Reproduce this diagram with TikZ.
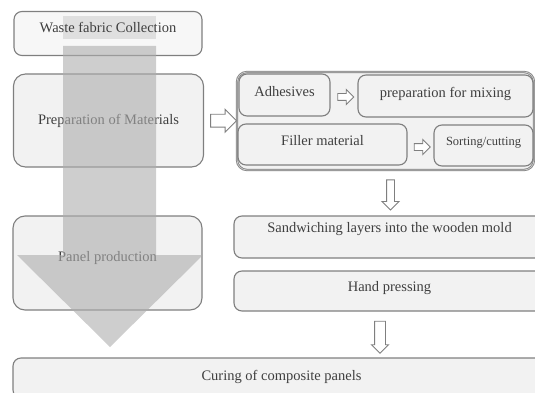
\documentclass[tikz,border=0pt]{standalone}
\usepackage{fontspec}
\setmainfont{Liberation Serif}
\usepackage{xcolor}
\definecolor{boxfill}{HTML}{F2F2F2}
\definecolor{boxline}{HTML}{7F7F7F}
\definecolor{ink}{HTML}{3F3F3F}
\definecolor{bigarrow}{HTML}{ADADAD}
\definecolor{strip}{HTML}{C4C4C4}
\usepackage{tikz}
\usetikzlibrary{shapes.arrows, calc}
\tikzset{
    stage/.style = {
      rounded corners = 8pt,
      draw = boxline,
      fill = boxfill,
      line width = 1.1pt,
      text = ink,
      inner sep = 0pt,
      text height = 10pt,
      font = \fontsize{14.5}{17}\selectfont
    },
    group/.style = {
      rounded corners = 10pt,
      draw = boxline,
      double = boxfill!70!boxline,
      double distance = 0.7pt,
      fill = boxfill,
      line width = 0.8pt
    },
    hollow/.style = {
      single arrow,
      draw = boxline,
      fill = white,
      line width = 0.9pt,
      inner sep = 0pt,
      minimum width = 0pt
    },
}
\begin{document}
\begin{tikzpicture}[x=1pt, y=-1pt]
    \useasboundingbox (0,0) rectangle (535,393);
    \clip (0,0) rectangle (535,393);

    % left column
    \fill[strip] (63,16) rectangle (156,39);
    \node[stage, fill opacity=0.6, text opacity=1, minimum width=188pt, minimum height=44pt, text depth=11.4pt] (WASTE) at (108,33.5) {Waste fabric Collection};
    \node[stage, rounded corners=12pt, minimum width=190pt, minimum height=93pt, text depth=2.4pt] (PREP) at (108.5,120.5) {Preparation of Materials};
    \node[stage, rounded corners=12pt, minimum width=189pt, minimum height=94pt, text depth=13.4pt] (PANEL) at (107.5,263) {Panel production};
    \fill[bigarrow, opacity=0.6] (63,46) -- (156,46) -- (156,255) -- (203,255) -- (110,347) -- (17,255) -- (63,255) -- cycle;

    % materials group
    \node[group, minimum width=297pt, minimum height=98pt] (GROUP) at (385.5,121) {};
    \node[stage, minimum width=91pt, minimum height=42pt, text depth=6.4pt] (ADH) at (284.5,95) {Adhesives};
    \node[stage, minimum width=175pt, minimum height=42pt, text depth=7.8pt] (MIX) at (445.5,96) {preparation for mixing};
    \node[stage, minimum width=169pt, minimum height=41pt, text depth=8.4pt] (FILLER) at (322.5,144.5) {Filler material};
    \node[stage, minimum width=99pt, minimum height=41pt, text height=9pt, text depth=8.4pt, font=\fontsize{12.5}{15}\selectfont] (SORT) at (483.5,145.5) {Sorting/cutting};

    % right column
    \node[stage, minimum width=311pt, minimum height=42pt, text depth=18.4pt] (SAND) at (389.5,237) {Sandwiching layers into the wooden mold};
    \node[stage, minimum width=311pt, minimum height=40pt, text depth=8.4pt] (PRESS) at (389.5,291) {Hand pressing};
    \node[stage, minimum width=537pt, minimum height=40pt, text depth=4.4pt] (CURE) at (281.5,378) {Curing of composite panels};

    % hollow arrows
    \node[hollow, minimum height=26pt, inner ysep=6pt, single arrow head extend=5pt] (A1) at ($(PREP.east)!0.5!(GROUP.west)$) {};
    \node[hollow, minimum height=16pt, inner ysep=3pt, single arrow head extend=4pt] (A2) at ($(ADH.east)!0.5!(MIX.west)+(0,1.5)$) {};
    \node[hollow, minimum height=16pt, inner ysep=3pt, single arrow head extend=4pt] (A3) at ($(FILLER.east)!0.5!(SORT.west)+(0,2)$) {};
    \node[hollow, rotate=-90, minimum height=30pt, inner ysep=3.5pt, single arrow head extend=4.5pt] (A4) at ($(GROUP.south)!0.5!(SAND.north)+(3,0)$) {};
    \node[hollow, rotate=-90, minimum height=32pt, inner ysep=5pt, single arrow head extend=3pt] (A5) at ($(PRESS.south)!0.5!(PRESS.south |- CURE.north)+(-9.5,0)$) {};
\end{tikzpicture}
\end{document}
